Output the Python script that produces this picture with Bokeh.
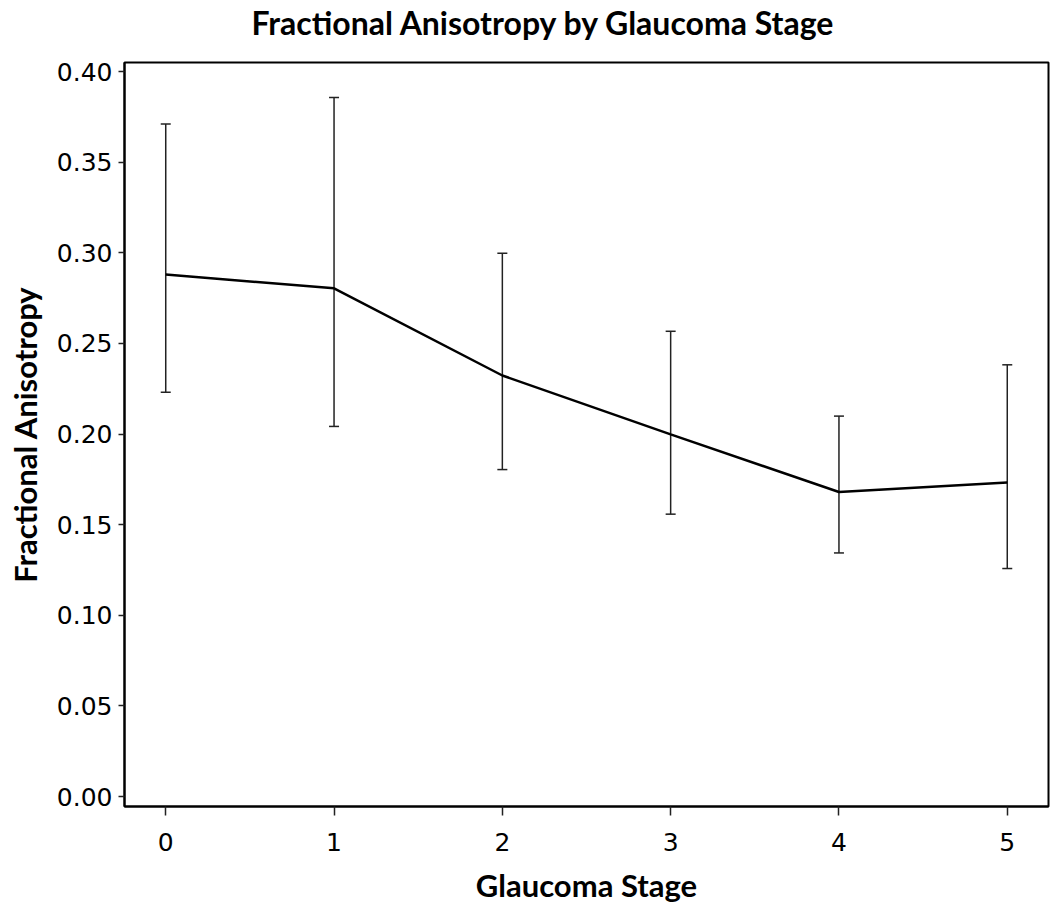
from bokeh.plotting import figure
from bokeh.models import (ColumnDataSource, Whisker, TeeHead, FixedTicker, NumeralTickFormatter,
                          Range1d, Title, LinearAxis)
from bokeh.embed import file_html
from bokeh.resources import INLINE

stages = [0, 1, 2, 3, 4, 5]
fa_mean = [0.288, 0.2804, 0.2323, 0.1998, 0.168, 0.1732]
fa_upper = [0.371, 0.3857, 0.2997, 0.2567, 0.2099, 0.2382]
fa_lower = [0.2231, 0.2042, 0.1804, 0.1558, 0.1344, 0.1258]
y_ticks = [0.0, 0.05, 0.10, 0.15, 0.20, 0.25, 0.30, 0.35, 0.40]

title_text = "Fractional Anisotropy by  Glaucoma Stage"
x_label = "Glaucoma Stage"
y_label = "Fractional Anisotropy"

src = ColumnDataSource(dict(x=stages, m=fa_mean, up=fa_upper, lo=fa_lower))

p = figure(width=1050, height=908, output_backend="svg", toolbar_location=None, title=None,
           x_range=Range1d(-0.245, 5.245), y_range=Range1d(-0.0055, 0.405),
           min_border_left=124, min_border_right=2, min_border_top=62, min_border_bottom=102)

xax = p.below[0]
yax = p.left[0]

# invisible spacer axis between the title and the frame (one hidden tick gives it height)
spacer = LinearAxis(ticker=FixedTicker(ticks=[stages[2]]), axis_line_color=None,
                    major_tick_line_color=None, minor_tick_line_color=None,
                    major_tick_out=19, minor_tick_out=0, major_tick_in=0, minor_tick_in=0,
                    major_label_standoff=0, major_label_overrides={stages[2]: ""},
                    major_label_text_font_size="1px", major_label_text_alpha=0)
p.add_layout(spacer, "above")

p.add_layout(Title(text=title_text, align="left", offset=127, vertical_align="top",
                   standoff=0, text_font="Lato", text_font_style="bold",
                   text_font_size="32px", text_color="black"), "above")

p.xgrid.visible = False
p.ygrid.visible = False
p.outline_line_color = "black"
p.outline_line_width = 2
p.outline_line_alpha = 1

w = Whisker(source=src, base="x", upper="up", lower="lo", dimension="height",
            line_color="#222222", line_width=1.5,
            upper_head=TeeHead(size=10, line_color="#222222", line_width=1.5),
            lower_head=TeeHead(size=10, line_color="#222222", line_width=1.5))
p.add_layout(w)
p.line("x", "m", source=src, line_color="black", line_width=2.5)

for ax in (xax, yax):
    ax.axis_line_color = "black"
    ax.axis_line_width = 2
    ax.major_tick_line_color = "#222222"
    ax.major_tick_line_width = 1.5
    ax.major_tick_in = 0
    ax.minor_tick_line_color = None
    ax.major_label_text_font = "DejaVu Sans"
    ax.major_label_text_font_size = "25px"
    ax.major_label_text_color = "black"
    ax.axis_label_text_font = "Lato"
    ax.axis_label_text_font_style = "bold"
    ax.axis_label_text_color = "black"

xax.ticker = FixedTicker(ticks=stages)
xax.major_tick_out = 9
xax.major_label_standoff = 17
xax.axis_label = x_label
xax.axis_label_standoff = 12
xax.axis_label_text_font_size = "31px"

yax.ticker = FixedTicker(ticks=y_ticks)
yax.formatter = NumeralTickFormatter(format="0.00")
yax.major_tick_out = 6
yax.major_label_standoff = 6
yax.axis_label = y_label
yax.axis_label_standoff = 10
yax.axis_label_text_font_size = "31px"

open("out.html", "w").write(file_html(p, INLINE))
